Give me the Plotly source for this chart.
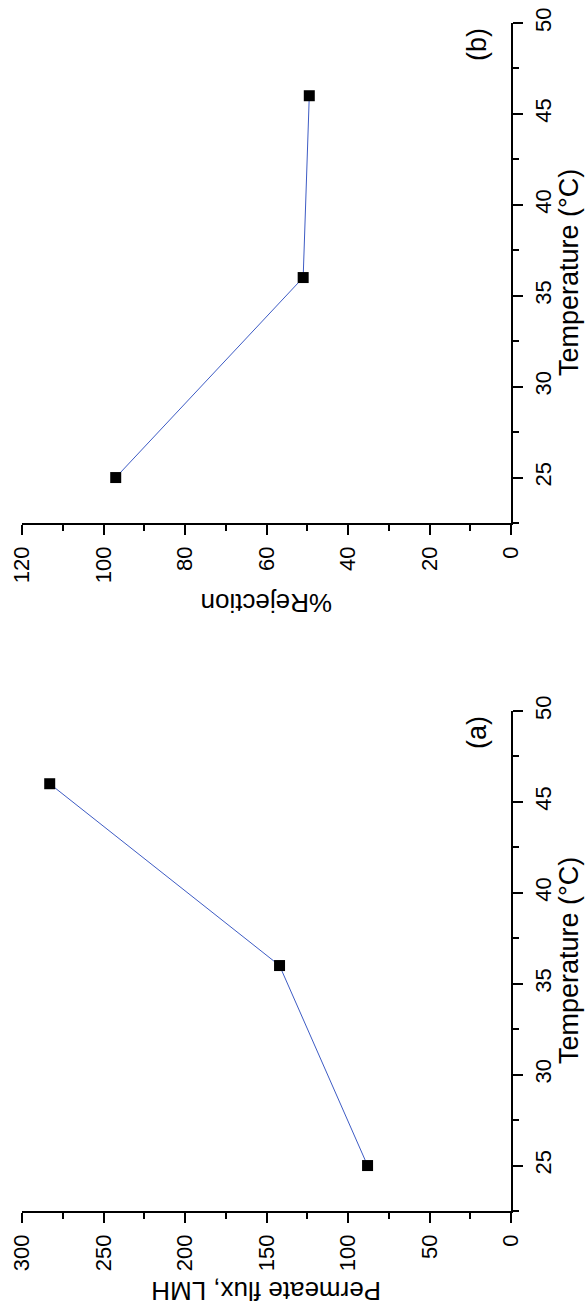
import plotly.graph_objects as go

# Data: temperature (°C) vs permeate flux and % rejection
temperature = [25, 36, 46]
permeate_flux = [88, 142, 283]
rejection = [97, 51, 49.5]

W, H = 587, 1305
FONT = "Liberation Sans, Arial, sans-serif"
LINE_COLOR = "#3d5bc4"

# Plot-area boundaries in pixels (rotated layout: flux runs right-to-left,
# temperature runs bottom-to-top)
X0, X1 = 22, 511
PANEL_A = (711, 1211)   # top, bottom pixel rows
PANEL_B = (23, 523)


def ydom(top, bottom):
    return [(H - bottom) / H, (H - top) / H]


fig = go.Figure()

fig.add_trace(go.Scatter(
    x=permeate_flux, y=temperature, mode="lines+markers",
    line=dict(color=LINE_COLOR, width=1),
    marker=dict(symbol="square", size=11, color="black"),
    xaxis="x", yaxis="y", showlegend=False, cliponaxis=False,
))
fig.add_trace(go.Scatter(
    x=rejection, y=temperature, mode="lines+markers",
    line=dict(color=LINE_COLOR, width=1),
    marker=dict(symbol="square", size=11, color="black"),
    xaxis="x2", yaxis="y2", showlegend=False, cliponaxis=False,
))

tick_font = dict(family=FONT, size=22, color="black")


def value_axis(rng, dtick, minor, anchor, domain):
    return dict(
        domain=domain, range=rng, anchor=anchor, automargin=False,
        showline=True, linecolor="black", linewidth=1.5,
        ticks="outside", ticklen=10, tickwidth=1.5, tickcolor="black",
        dtick=dtick, tick0=0, tickangle=-90, tickfont=tick_font,
        minor=dict(ticks="outside", ticklen=6, tickwidth=1.5,
                   tickcolor="black", dtick=minor, tick0=0),
        showgrid=False, zeroline=False, side="bottom",
        ticklabelstandoff=3,
    )


def temp_axis(anchor, domain):
    return dict(
        domain=domain, range=[22.5, 50], anchor=anchor, side="right",
        automargin=False,
        showline=True, linecolor="black", linewidth=1.5,
        ticks="outside", ticklen=10, tickwidth=1.5, tickcolor="black",
        dtick=5, tick0=25, tickangle=-90, tickfont=tick_font,
        minor=dict(ticks="outside", ticklen=6, tickwidth=1.5,
                   tickcolor="black", dtick=2.5, tick0=22.5),
        showgrid=False, zeroline=False,
        ticklabelstandoff=2,
    )


xdom = [X0 / W, X1 / W]

fig.update_layout(
    width=W, height=H,
    margin=dict(l=0, r=0, t=0, b=0, autoexpand=False),
    paper_bgcolor="white", plot_bgcolor="white",
    font=dict(family=FONT, color="black"),
    xaxis=value_axis([300, 0], 50, 25, "y", xdom),
    yaxis=temp_axis("x", ydom(*PANEL_A)),
    xaxis2=value_axis([120, 0], 20, 10, "y2", xdom),
    yaxis2=temp_axis("x2", ydom(*PANEL_B)),
)


def px_to_paper(x, y):
    return x / W, 1 - y / H


annotations = []
for (top, bottom), vtitle, tag in [
    (PANEL_A, "Permeate flux, LMH", "(a)"),
    (PANEL_B, "%Rejection", "(b)"),
]:
    mid = (top + bottom) / 2
    ax, ay = px_to_paper(569, mid)
    annotations.append(dict(text="Temperature (°C)", x=ax, y=ay, textangle=-90,
                            font=dict(family=FONT, size=27)))
    bx, by = px_to_paper((X0 + X1) / 2, bottom + 80)
    annotations.append(dict(text=vtitle, x=bx, y=by, textangle=180,
                            font=dict(family=FONT, size=26)))
    cx, cy = px_to_paper(477, top + 22)
    annotations.append(dict(text=tag, x=cx, y=cy, textangle=-90,
                            font=dict(family=FONT, size=27)))

for a in annotations:
    a.update(xref="paper", yref="paper", xanchor="center", yanchor="middle",
             showarrow=False)
fig.update_layout(annotations=annotations)

fig.write_html("out.html")
